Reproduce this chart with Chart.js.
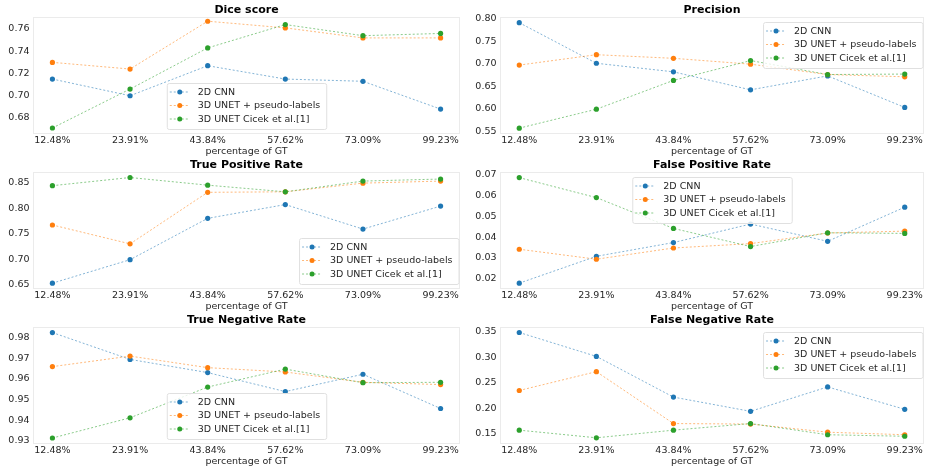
<!DOCTYPE html>
<html>
<head>
<meta charset="utf-8">
<script src="https://cdn.jsdelivr.net/npm/chart.js@4.4.1/dist/chart.umd.min.js"></script>
<style>
  html, body { margin: 0; padding: 0; background: #fff; }
  #page { position: relative; width: 928px; height: 470px; overflow: hidden; }
  .cell { position: absolute; width: 464px; height: 157px; }
</style>
</head>
<body>
<div id="page">
  <div class="cell" style="left:0;top:0"><canvas id="c-dice"></canvas></div>
  <div class="cell" style="left:464px;top:0"><canvas id="c-prec"></canvas></div>
  <div class="cell" style="left:0;top:155px"><canvas id="c-tpr"></canvas></div>
  <div class="cell" style="left:464px;top:155px"><canvas id="c-fpr"></canvas></div>
  <div class="cell" style="left:0;top:310px"><canvas id="c-tnr"></canvas></div>
  <div class="cell" style="left:464px;top:310px"><canvas id="c-fnr"></canvas></div>
</div>
<script>
// ── data ────────────────────────────────────────────────────────────────────
const xLabels = ['12.48%', '23.91%', '43.84%', '57.62%', '73.09%', '99.23%'];
const seriesNames = ['2D CNN', '3D UNET + pseudo-labels', '3D UNET Cicek et al.[1]'];

const dice2d  = [0.715, 0.700, 0.727, 0.715, 0.713, 0.688];
const diceP   = [0.730, 0.724, 0.767, 0.761, 0.752, 0.752];
const diceC   = [0.671, 0.706, 0.743, 0.764, 0.754, 0.756];
const diceTicks = [0.68, 0.70, 0.72, 0.74, 0.76];

const prec2d  = [0.791, 0.701, 0.682, 0.642, 0.673, 0.603];
const precP   = [0.697, 0.720, 0.712, 0.699, 0.676, 0.671];
const precC   = [0.557, 0.599, 0.663, 0.707, 0.676, 0.677];
const precTicks = [0.55, 0.60, 0.65, 0.70, 0.75, 0.80];

const tpr2d   = [0.653, 0.699, 0.780, 0.807, 0.759, 0.804];
const tprP    = [0.767, 0.730, 0.831, 0.832, 0.849, 0.853];
const tprC    = [0.844, 0.860, 0.845, 0.832, 0.853, 0.857];
const tprTicks = [0.65, 0.70, 0.75, 0.80, 0.85];

const fpr2d   = [0.0179, 0.0308, 0.0374, 0.0463, 0.0380, 0.0544];
const fprP    = [0.0342, 0.0294, 0.0348, 0.0369, 0.0420, 0.0429];
const fprC    = [0.0686, 0.0590, 0.0442, 0.0355, 0.0421, 0.0418];
const fprTicks = [0.02, 0.03, 0.04, 0.05, 0.06, 0.07];

const tnr2d   = [0.9824, 0.9694, 0.9630, 0.9538, 0.9622, 0.9456];
const tnrP    = [0.9659, 0.9710, 0.9654, 0.9633, 0.9583, 0.9572];
const tnrC    = [0.9313, 0.9411, 0.9560, 0.9647, 0.9581, 0.9583];
const tnrTicks = [0.93, 0.94, 0.95, 0.96, 0.97, 0.98];

const fnr2d   = [0.349, 0.302, 0.222, 0.194, 0.242, 0.198];
const fnrP    = [0.235, 0.272, 0.170, 0.169, 0.153, 0.148];
const fnrC    = [0.157, 0.142, 0.157, 0.170, 0.148, 0.145];
const fnrTicks = [0.15, 0.20, 0.25, 0.30, 0.35];

// ── shared style ────────────────────────────────────────────────────────────
const FONT = "'DejaVu Sans', sans-serif";
const COLORS = ['#1f77b4', '#ff7f0e', '#2ca02c'];
const FADED  = ['rgba(31,119,180,0.55)', 'rgba(255,127,14,0.55)', 'rgba(44,160,44,0.55)'];

// light frame round the plot area (all four spines) + title centred on the axes
const framePlugin = {
  id: 'frame',
  beforeDatasetsDraw(chart, _args, opts) {
    const { ctx, chartArea: a } = chart;
    ctx.save();
    ctx.strokeStyle = '#ebebeb';
    ctx.lineWidth = 1;
    ctx.strokeRect(a.left + 0.5, a.top + 0.5, a.right - a.left - 1, a.bottom - a.top - 1);
    ctx.fillStyle = '#000';
    ctx.font = `bold 11px ${FONT}`;
    ctx.textAlign = 'center';
    ctx.textBaseline = 'middle';
    ctx.fillText(opts.title || '', (a.left + a.right) / 2, a.top - 6.5);
    ctx.restore();
  },
};

// matplotlib-like legend placed with a loc string inside the plot area
const mplLegend = {
  id: 'mplLegend',
  afterDraw(chart, _args, opts) {
    const { ctx, chartArea: a } = chart;
    const loc = opts.loc || 'upper right';
    ctx.save();
    ctx.font = `9.5px ${FONT}`;
    const textW = Math.max(...seriesNames.map(s => ctx.measureText(s).width));
    const w = 31 + textW + 6, h = 46;
    const insetX = 1.5, insetY = 5;
    let x;
    if (loc.includes('right')) x = a.right - insetX - w;
    else if (loc.includes('left')) x = a.left + insetX;
    else x = (a.left + a.right) / 2 - w / 2;
    const y = loc.startsWith('upper') ? a.top + insetY : a.bottom - insetY - h;

    ctx.fillStyle = 'rgba(255,255,255,0.8)';
    ctx.strokeStyle = '#e0e0e0';
    ctx.lineWidth = 1;
    ctx.beginPath();
    ctx.roundRect(x + 0.5, y + 0.5, w, h, 2);
    ctx.fill();
    ctx.stroke();

    seriesNames.forEach((name, i) => {
      const cy = y + 9 + i * 13.5;
      ctx.strokeStyle = FADED[i];
      ctx.setLineDash([2, 2]);
      ctx.beginPath();
      ctx.moveTo(x + 3, cy);
      ctx.lineTo(x + 23, cy);
      ctx.stroke();
      ctx.setLineDash([]);
      ctx.fillStyle = COLORS[i];
      ctx.beginPath();
      ctx.arc(x + 13, cy, 2.5, 0, Math.PI * 2);
      ctx.fill();
      ctx.fillStyle = '#262626';
      ctx.textBaseline = 'middle';
      ctx.textAlign = 'left';
      ctx.fillText(name, x + 31, cy + 0.5);
    });
    ctx.restore();
  },
};

function toPoints(values) {
  return values.map((v, i) => ({ x: i, y: v }));
}

function makePanel(canvasId, title, series, yMin, yMax, yTicks, decimals, loc, axisWidth) {
  const datasets = series.map((values, i) => ({
    label: seriesNames[i],
    data: toPoints(values),
    borderColor: FADED[i],
    backgroundColor: COLORS[i],
    borderWidth: 1,
    borderDash: [2, 2],
    pointRadius: 2.6,
    pointBorderWidth: 0,
    pointBackgroundColor: COLORS[i],
    tension: 0,
    fill: false,
    order: 2 - i,
  }));

  return new Chart(document.getElementById(canvasId), {
    type: 'line',
    data: { datasets },
    plugins: [framePlugin, mplLegend],
    options: {
      responsive: true,
      maintainAspectRatio: false,
      animation: false,
      layout: { padding: { left: 0, right: 1, top: 17, bottom: 0 } },
      plugins: {
        legend: { display: false },
        tooltip: { enabled: false },
        title: { display: false },
        frame: { title },
        mplLegend: { loc },
      },
      scales: {
        x: {
          type: 'linear',
          min: -0.25,
          max: xLabels.length - 0.75,
          afterBuildTicks: (s) => { s.ticks = xLabels.map((_, i) => ({ value: i })); },
          afterFit: (s) => { s.height = 23; },
          grid: { display: false, drawTicks: false },
          border: { display: false },
          ticks: {
            color: '#262626',
            padding: 1,
            maxRotation: 0,
            autoSkip: false,
            font: { family: FONT, size: 9.5 },
            callback: (v) => xLabels[v],
          },
          title: {
            display: true,
            text: 'percentage of GT',
            color: '#262626',
            padding: 0,
            font: { family: FONT, size: 9.5 },
          },
        },
        y: {
          min: yMin,
          max: yMax,
          afterBuildTicks: (s) => { s.ticks = yTicks.map(v => ({ value: v })); },
          afterFit: (s) => { s.width = axisWidth; },
          grid: { display: false, drawTicks: false },
          border: { display: false },
          ticks: {
            color: '#262626',
            padding: 3.5,
            font: { family: FONT, size: 9.5 },
            callback: (v) => Number(v).toFixed(decimals),
          },
        },
      },
    },
  });
}

makePanel('c-dice', 'Dice score',          [dice2d, diceP, diceC], 0.6656, 0.7708, diceTicks, 2, 'lower center', 33);
makePanel('c-prec', 'Precision',           [prec2d, precP, precC], 0.544,  0.8037, precTicks, 2, 'upper right',  36);
makePanel('c-tpr',  'True Positive Rate',  [tpr2d,  tprP,  tprC],  0.6416, 0.8708, tprTicks,  2, 'lower right',  33);
makePanel('c-fpr',  'False Positive Rate', [fpr2d,  fprP,  fprC],  0.0151, 0.0713, fprTicks,  2, 'upper center', 36);
makePanel('c-tnr',  'True Negative Rate',  [tnr2d,  tnrP,  tnrC],  0.9284, 0.9851, tnrTicks,  2, 'lower center', 33);
makePanel('c-fnr',  'False Negative Rate', [fnr2d,  fnrP,  fnrC],  0.1298, 0.3598, fnrTicks,  2, 'upper right',  36);
</script>
</body>
</html>
